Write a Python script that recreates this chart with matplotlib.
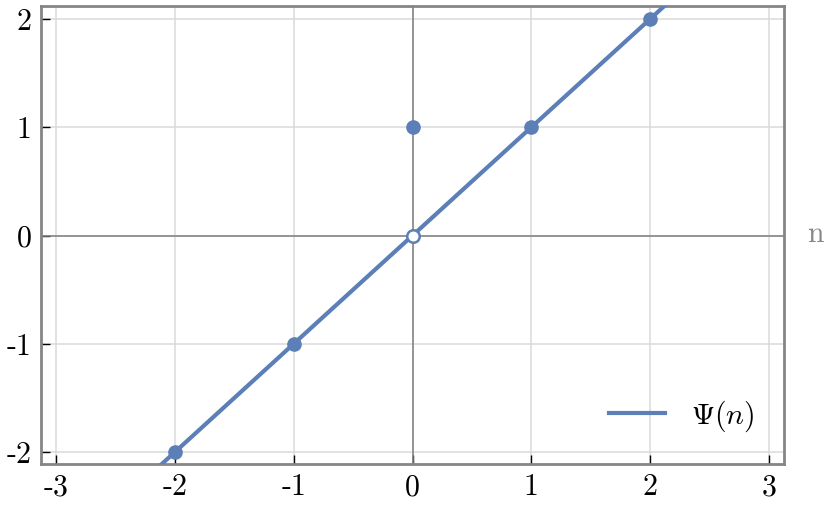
import matplotlib
matplotlib.use('Agg')
import matplotlib.pyplot as plt

# values
pts_n = [-2, -1, 1, 2]
pts_psi = [-2, -1, 1, 2]
spec_n = [0]
spec_psi = [1]
hole_n = [0]
hole_psi = [0]
line_n = [-2.3, 2.3]
line_psi = [-2.3, 2.3]
xticks = [-3, -2, -1, 0, 1, 2, 3]
xtick_labels = ['-3', '-2', '-1', '0', '1', '2', '3']
yticks = [-2, -1, 0, 1, 2]
ytick_labels = ['-2', '-1', '0', '1', '2']

blue = '#5b7fb6'

plt.rcParams['font.family'] = 'serif'
plt.rcParams['font.serif'] = ['cmr10']
plt.rcParams['mathtext.fontset'] = 'cm'
plt.rcParams['axes.unicode_minus'] = False

fig = plt.figure(figsize=(8.3, 5.13), dpi=100)
ax = fig.add_axes([41 / 830, 49 / 513, 743 / 830, 458 / 513])

ax.set_xlim(-3.127, 3.127)
ax.set_ylim(-2.11, 2.12)

ax.grid(True, color='#dadada', lw=1.1)
ax.set_axisbelow(True)
ax.axhline(0, color='#7f7f7f', lw=1.1, zorder=1)
ax.axvline(0, color='#7f7f7f', lw=1.1, zorder=1)

ax.plot(line_n, line_psi, color=blue, lw=3.0, label=r'$\Psi(n)$', zorder=3)
ax.plot(pts_n, pts_psi, 'o', color=blue, ms=9.5, zorder=4)
ax.plot(spec_n, spec_psi, 'o', color=blue, ms=9.5, zorder=4)
ax.plot(hole_n, hole_psi, 'o', mfc='white', mec=blue, mew=1.8, ms=9, zorder=5)

ax.set_xticks(xticks)
ax.set_xticklabels(xtick_labels)
ax.set_yticks(yticks)
ax.set_yticklabels(ytick_labels)
ax.tick_params(direction='in', length=6.5, width=1.0, color='black',
               labelsize=21.5, top=False, right=False, pad=7)

for s in ax.spines.values():
    s.set_color('#858585')
    s.set_linewidth(2.0)

fig.text(815 / 830, 1 - 234 / 513, 'n', color='#888888', fontsize=21.5,
         ha='center', va='center')

ax.legend(loc='lower right', bbox_to_anchor=(0.997, 0.007), frameon=False,
          fontsize=21.5, handlelength=1.85, handletextpad=0.9)

fig.savefig('out.png', dpi=100)
